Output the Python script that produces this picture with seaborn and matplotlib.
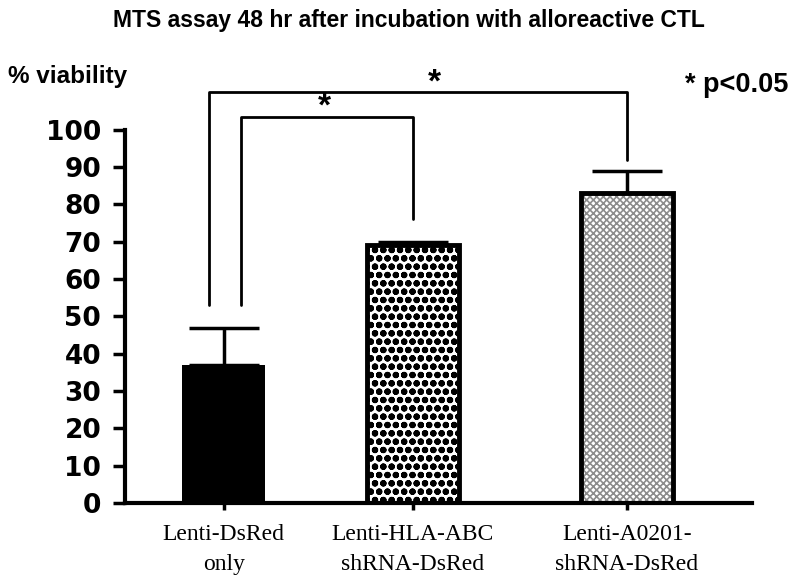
import matplotlib
matplotlib.use("Agg")
import matplotlib.pyplot as plt
from matplotlib.patches import Rectangle
import seaborn as sns
import pandas as pd

groups = ["Lenti-DsRed\nonly", "Lenti-HLA-ABC\nshRNA-DsRed", "Lenti-A0201-\nshRNA-DsRed"]
viability = [37, 69, 83]
sem = [10, 1, 6]

# x placement of the three bars (the original figure is not evenly spaced)
positions = [0, 0.938, 2]

df = pd.DataFrame({"pos": positions, "viability": viability})

sns.set_style("ticks")
plt.rcParams["font.family"] = ["Liberation Sans", "DejaVu Sans"]
plt.rcParams["text.color"] = "black"
plt.rcParams["xtick.color"] = "black"
plt.rcParams["ytick.color"] = "black"
plt.rcParams["axes.edgecolor"] = "black"

fig = plt.figure(figsize=(8, 5.82), dpi=100)
ax = fig.add_axes([0.156, 0.136, 0.784, 0.641])

sns.barplot(data=df, x="pos", y="viability", color="black", width=0.487,
            native_scale=True, errorbar=None, ax=ax, zorder=2)

bars = ax.patches
# first bar: plain black, a bit narrower
w1 = 0.41
bars[0].set_x(bars[0].get_x() + (bars[0].get_width() - w1) / 2)
bars[0].set_width(w1)
bars[0].set_facecolor("black")
bars[0].set_edgecolor("black")
bars[0].set_linewidth(0)

bars[1].set_facecolor("white")
bars[1].set_edgecolor("black")
bars[1].set_hatch("oo..")
bars[1].set_linewidth(0)

bars[2].set_facecolor("white")
bars[2].set_edgecolor("#8c8c8c")
bars[2].set_hatch("xxxxx")
bars[2].set_linewidth(0)

if hasattr(bars[1], "set_hatch_linewidth"):
    bars[1].set_hatch_linewidth(2.2)
    bars[2].set_hatch_linewidth(1.2)
else:
    plt.rcParams["hatch.linewidth"] = 1.6

for b in bars[1:]:
    ax.add_patch(Rectangle((b.get_x(), b.get_y()), b.get_width(), b.get_height(),
                           fill=False, edgecolor="black", linewidth=3.5, zorder=3))

ax.errorbar(positions, viability, yerr=[[0] * 3, sem], fmt="none", ecolor="black",
            elinewidth=2.5, capsize=25, capthick=2.5, zorder=1)

ax.set_ylim(0, 100)
ax.set_xlim(-0.491, 2.62)
ax.set_yticks(range(0, 101, 10))
ax.tick_params(axis="y", labelsize=19, width=2.5, length=9, pad=8)
ax.tick_params(axis="x", width=2.5, length=5, pad=10)
for lab in ax.get_yticklabels():
    lab.set_fontweight("bold")
    lab.set_family("DejaVu Sans")
ax.set_xticks(positions)
ax.set_xticklabels(groups, fontsize=17, family="Liberation Serif", linespacing=1.6)
ax.set_xlabel("")
ax.set_ylabel("")
for side in ["top", "right"]:
    ax.spines[side].set_visible(False)
ax.spines["left"].set_linewidth(3)
ax.spines["bottom"].set_linewidth(3)


# significance brackets
def bracket(x0, x1, y0, y1, top, star_x, star_y):
    ax.plot([x0, x0, x1, x1], [y0, top, top, y1], color="black", lw=2,
            clip_on=False, zorder=4)
    ax.text(star_x, star_y, "*", ha="center", va="center", fontsize=24,
            fontweight="bold", clip_on=False)


bracket(-0.074, positions[2], 53, 92, 110.2, 1.047, 112.5)
bracket(0.084, positions[1], 53, 76, 103.5, 0.50, 106)

fig.text(0.511, 0.964, "MTS assay 48 hr after incubation with alloreactive CTL",
         ha="center", va="center", fontsize=16.5, fontweight="bold")
fig.text(0.01, 0.868, "% viability", ha="left", va="center", fontsize=17.5,
         fontweight="bold")
fig.text(0.856, 0.854, "* p<0.05", ha="left", va="center", fontsize=19.5,
         fontweight="bold")

fig.savefig("out.png", dpi=100)
